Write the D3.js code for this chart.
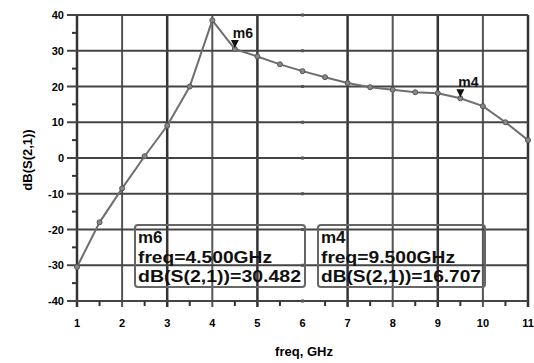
<!DOCTYPE html>
<html>
<head>
<meta charset="utf-8">
<script src="https://cdn.jsdelivr.net/npm/d3@7"></script>
<style>
  body { margin: 0; background: #fff; }
  text { font-family: "Liberation Sans", Arial, sans-serif; font-weight: bold; }
</style>
</head>
<body>
<svg id="chart" width="534" height="363"></svg>
<script>
// datos
const freqs = [1, 1.5, 2, 2.5, 3, 3.5, 4, 4.5, 5, 5.5, 6, 6.5, 7, 7.5, 8, 8.5, 9, 9.5, 10, 10.5, 11];
const s21 = [-30.5, -18, -8.5, 0.5, 9, 20, 38.5, 30.482, 28.4, 26.2, 24.3, 22.6, 21, 19.8, 19.1, 18.4, 18.1, 16.707, 14.5, 10, 5];
const xTicks = [1, 2, 3, 4, 5, 6, 7, 8, 9, 10, 11];
const yTicks = [-40, -30, -20, -10, 0, 10, 20, 30, 40];
const markerNames = ["m6", "m4"];
const markerFreqs = [4.5, 9.5];
const markerVals = [30.482, 16.707];
const markerFreqLabels = ["4.500GHz", "9.500GHz"];

const svg = d3.select("#chart");
const x = d3.scaleLinear().domain([1, 11]).range([77, 528]);
const y = d3.scaleLinear().domain([-40, 40]).range([301, 15]);

// Rejilla
const grid = svg.append("g");
grid.selectAll("line.v").data(xTicks.filter(d => d !== 6)).join("line")
  .attr("x1", d => x(d)).attr("x2", d => x(d))
  .attr("y1", y(40)).attr("y2", y(-40) + 6)
  .attr("stroke", d => d % 2 ? "#333" : "#555")
  .attr("stroke-width", d => d % 2 ? 2.5 : 2);
grid.selectAll("line.h").data(yTicks).join("line")
  .attr("x1", x(1) - 10).attr("x2", x(11))
  .attr("y1", d => y(d)).attr("y2", d => y(d))
  .attr("stroke", "#444").attr("stroke-width", 2);
// puntitos donde falta la línea de 6 GHz
grid.selectAll("rect.dot").data(yTicks).join("rect")
  .attr("x", x(6) - 1.5).attr("y", d => y(d) - 1.5)
  .attr("width", 3).attr("height", 3).attr("fill", "#555");

// Ticks menores
svg.append("g").selectAll("line").data(d3.range(1.5, 11, 1)).join("line")
  .attr("x1", d => x(d)).attr("x2", d => x(d))
  .attr("y1", y(-40)).attr("y2", y(-40) + 5)
  .attr("stroke", "#333").attr("stroke-width", 2);
svg.append("g").selectAll("line").data(d3.range(-35, 40, 10)).join("line")
  .attr("x1", x(1) - 5).attr("x2", x(1))
  .attr("y1", d => y(d)).attr("y2", d => y(d))
  .attr("stroke", "#333").attr("stroke-width", 2);

// Etiquetas de ejes
svg.append("g").selectAll("text").data(xTicks).join("text")
  .attr("x", d => x(d)).attr("y", 327)
  .attr("text-anchor", "middle").attr("font-size", 11)
  .text(d => d);
svg.append("g").selectAll("text").data(yTicks).join("text")
  .attr("x", 64).attr("y", d => y(d) + 4)
  .attr("text-anchor", "end").attr("font-size", 11)
  .text(d => d);

svg.append("text")
  .attr("x", 304).attr("y", 356)
  .attr("text-anchor", "middle").attr("font-size", 13)
  .text("freq, GHz");
svg.append("text")
  .attr("transform", "translate(32,160) rotate(-90)")
  .attr("text-anchor", "middle").attr("font-size", 13)
  .text("dB(S(2,1))");

// Curva
const pts = freqs.map((f, i) => [f, s21[i]]);
svg.append("path")
  .datum(pts)
  .attr("fill", "none").attr("stroke", "#6e6e6e").attr("stroke-width", 2)
  .attr("d", d3.line().x(d => x(d[0])).y(d => y(d[1])));
svg.append("g").selectAll("circle").data(pts).join("circle")
  .attr("cx", d => x(d[0])).attr("cy", d => y(d[1])).attr("r", 2.5)
  .attr("fill", "#888").attr("stroke", "#555").attr("stroke-width", 1);

// Marcadores
markerNames.forEach((name, i) => {
  const mx = x(markerFreqs[i]), my = y(markerVals[i]);
  svg.append("path")
    .attr("d", `M${mx - 4},${my - 9}L${mx + 4},${my - 9}L${mx},${my - 1}Z`)
    .attr("fill", "#111");
  svg.append("text")
    .attr("x", mx - 2).attr("y", my - 11)
    .attr("font-size", 14).attr("fill", "#111")
    .text(name);
});

// Cajas de marcadores
const boxX = [135, 318];
const boxW = [170, 167];
const lineLen = [[null, 134, 163], [null, 134, 160]];
markerNames.forEach((name, i) => {
  const g = svg.append("g").attr("transform", `translate(${boxX[i]},225)`);
  g.append("rect")
    .attr("width", boxW[i]).attr("height", 62).attr("rx", 3)
    .attr("fill", "none").attr("stroke", "#666").attr("stroke-width", 2);
  const lines = [name, `freq=${markerFreqLabels[i]}`, `dB(S(2,1))=${markerVals[i].toFixed(3)}`];
  g.selectAll("text").data(lines).join("text")
    .attr("x", 3).attr("y", (d, j) => 18 + j * 19.5)
    .attr("font-size", 17).attr("fill", "#111")
    .attr("textLength", (d, j) => lineLen[i][j])
    .attr("lengthAdjust", "spacingAndGlyphs")
    .text(d => d);
});
</script>
</body>
</html>
